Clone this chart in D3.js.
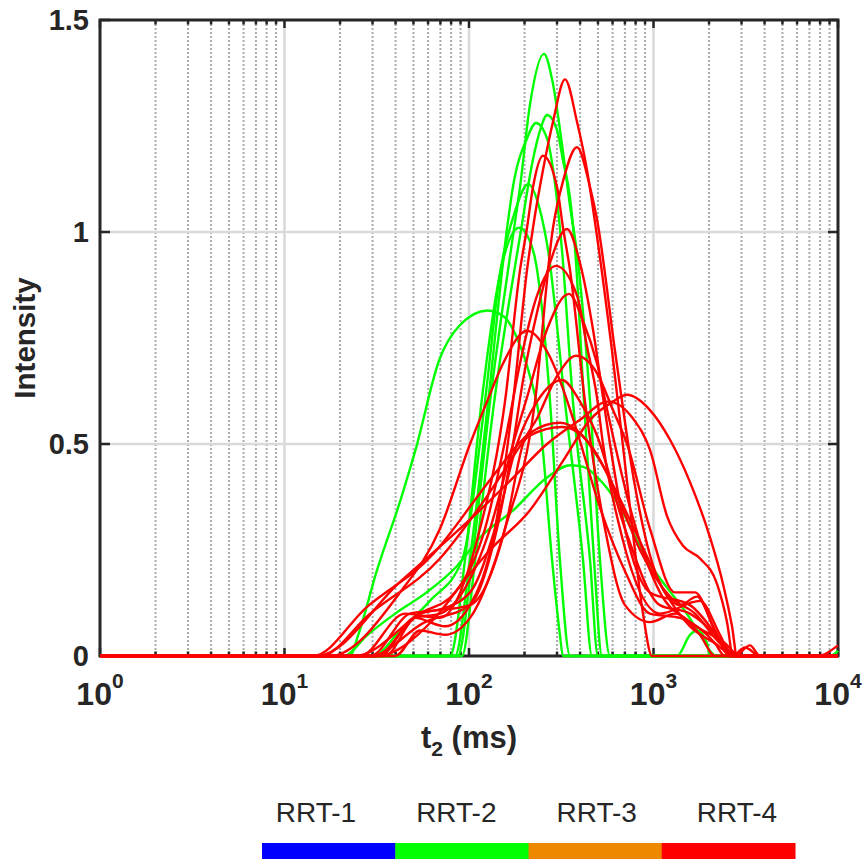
<!DOCTYPE html>
<html>
<head>
<meta charset="utf-8">
<script src="https://cdn.jsdelivr.net/npm/d3@7"></script>
<style>
  body { margin: 0; background: #fff; }
  svg { display: block; }
</style>
</head>
<body>
<script>
var WIDTH = 864,
    HEIGHT = 859,
    LEFT = 100,
    TOP = 20,
    RIGHT = 838,
    BOTTOM = 656;

// tick values
var xMajorTicks = [1, 10, 100, 1000, 10000];
var xTickExp = ['0', '1', '2', '3', '4'];
var yTicks = [0, 0.5, 1, 1.5];
var yTickLabels = ['0', '0.5', '1', '1.5'];

// legend
var legendLabels = ['RRT-1', 'RRT-2', 'RRT-3', 'RRT-4'];
var legendColors = ['#0000ff', '#00ff00', '#ee8800', '#ff0000'];

// RRT-2 curves: [t2 (ms), intensity]
var g1 = [[1,0],[87,0],[104,0.226],[130,0.6],[173,0.99],[189,1.106],[214,1.30],[255,1.42],[282,1.36],[323,1.19],[353,1.06],[385,0.95],[453,0.6],[513,0.226],[581,0],[10000,0]];
var g2 = [[1,0],[91.6,0],[108,0.226],[137,0.6],[189,0.99],[222,1.17],[243,1.24],[265,1.276],[300,1.24],[323,1.17],[353,1.08],[376,0.958],[420,0.6],[476,0.226],[526,0],[1341,0],[1578,0.05],[1721,0.06],[1950,0.03],[2024,0],[10000,0]];
var g3 = [[1,0],[84,0],[101,0.226],[127,0.6],[161,1.01],[173,1.106],[206,1.22],[231,1.257],[265,1.22],[285,1.15],[319,0.958],[366,0.6],[453,0.226],[500,0],[9055,0],[10000,0.012]];
var g4 = [[1,0],[30.2,0],[42.3,0.06],[61.4,0.13],[91.6,0.226],[122,0.6],[147,0.9],[178,1.05],[209,1.113],[243,1.05],[268,0.958],[331,0.6],[415,0.226],[464,0],[10000,0]];
var g5 = [[1,0],[78.9,0],[95.1,0.226],[117,0.6],[147,0.9],[187,1.01],[222,0.958],[275,0.6],[311,0.226],[353,0],[10000,0]];
var g6 = [[1,0],[22.6,0],[25.1,0.05],[31.6,0.20],[42.7,0.37],[51.3,0.486],[69.2,0.70],[89.1,0.78],[126,0.815],[155,0.80],[182,0.75],[214,0.66],[243,0.55],[282,0.226],[311,0.05],[323,0],[10000,0]];
var g7 = [[1,0],[20.9,0],[28.2,0.05],[39.8,0.10],[58.9,0.15],[85.1,0.21],[115,0.28],[174,0.344],[263,0.42],[355,0.45],[417,0.446],[513,0.415],[661,0.35],[912,0.23],[1175,0.163],[1514,0.10],[1862,0.038],[2042,0.01],[2188,0],[10000,0]];

// RRT-4 curves: [t2 (ms), intensity]
var r1 = [[1,0],[32.9,0],[51.0,0.09],[74.1,0.07],[101.3,0.12],[138.3,0.3],[173.2,0.6],[206.3,0.91],[222.3,1.01],[251.8,1.146],[285.3,1.26],[331.4,1.36],[384.9,1.26],[436.1,1.146],[494.0,0.99],[595.7,0.72],[745.9,0.35],[877.4,0.1],[981.5,0],[10000,0]];
var r2 = [[1,0],[39.7,0],[54.3,0.06],[74.1,0.05],[101.3,0.09],[156.7,0.3],[227.9,0.6],[285.3,1.01],[323.3,1.12],[384.9,1.20],[452.7,1.106],[494.0,1.03],[618.4,0.72],[793.9,0.4],[1019,0.2],[1392,0.12],[1721,0.14],[2154,0.06],[2598,0],[10000,0]];
var r3 = [[1,0],[25.7,0],[45.0,0.1],[69.6,0.09],[114.7,0.3],[156.7,0.6],[189.0,0.91],[206.3,1.01],[222.3,1.106],[251.8,1.18],[299.9,1.106],[323.3,1.01],[352.8,0.91],[425.3,0.6],[545.9,0.3],[700.8,0.12],[957.2,0.08],[1308,0.1],[1787,0.05],[2154,0],[10000,0]];
var r4 = [[1,0],[29.1,0],[57.7,0.08],[101.3,0.12],[141.8,0.3],[173.2,0.5],[196.2,0.65],[233.7,0.81],[274.8,0.927],[339.8,1.007],[399.5,0.927],[470.0,0.77],[532.5,0.61],[581.0,0.5],[700.8,0.3],[957.2,0.15],[1577,0.12],[2293,0.04],[2765,0],[7693,0],[10000,0.025]];
var r5 = [[1,0],[24.1,0],[54.3,0.1],[84.0,0.15],[122.1,0.3],[160.7,0.53],[189.0,0.69],[233.7,0.85],[296.1,0.92],[384.9,0.85],[436.1,0.73],[494.0,0.61],[532.5,0.50],[658.3,0.3],[1084,0.1],[1787,0.13],[2293,0.05],[2664,0],[3133,0.02],[3778,0],[10000,0]];
var r6 = [[1,0],[35.0,0],[51.0,0.09],[69.6,0.1],[130.0,0.3],[173.2,0.5],[206.3,0.61],[264.7,0.77],[348.4,0.854],[414.8,0.79],[494.0,0.69],[581.0,0.55],[745.9,0.35],[1084,0.15],[1577,0.08],[2441,0.03],[2943,0],[10000,0]];
var r7 = [[1,0],[17.65,0],[42.3,0.15],[69.6,0.3],[101.3,0.5],[125.2,0.60],[152.9,0.69],[206.3,0.767],[274.8,0.705],[323.3,0.63],[384.9,0.53],[512.9,0.35],[700.8,0.2],[957.2,0.1],[1392,0.09],[2154,0.03],[2441,0],[10000,0]];
var r8 = [[1,0],[30.9,0],[54.3,0.1],[101.3,0.12],[156.7,0.3],[196.2,0.5],[233.7,0.56],[299.9,0.66],[380.2,0.708],[494.0,0.667],[603.2,0.58],[718.6,0.5],[957.2,0.3],[1308,0.15],[1679,0.15],[2154,0.06],[2598,0],[10000,0]];
var r9 = [[1,0],[29.1,0],[47.9,0.1],[69.6,0.11],[101.3,0.15],[138.3,0.3],[182.0,0.5],[233.7,0.60],[319.3,0.651],[399.5,0.6],[494.0,0.52],[700.8,0.3],[1084,0.12],[1577,0.1],[2293,0.04],[2765,0],[3334,0.025],[3778,0],[10000,0]];
var r10 = [[1,0],[14.27,0],[28.0,0.116],[63.8,0.24],[114.7,0.384],[147.2,0.446],[214.1,0.526],[311.3,0.55],[399.5,0.526],[512.9,0.46],[658.3,0.37],[845.2,0.27],[1154,0.15],[1577,0.07],[2154,0.03],[2765,0],[10000,0]];
var r11 = [[1,0],[15.57,0],[29.1,0.1],[69.6,0.23],[122.1,0.37],[156.7,0.44],[214.1,0.52],[319.3,0.54],[409.6,0.52],[532.5,0.45],[675,0.35],[845.2,0.25],[1229,0.14],[1679,0.1],[2293,0.03],[2943,0],[10000,0]];
var r12 = [[1,0],[31.7,0],[63.8,0.085],[95.1,0.18],[130.0,0.25],[214.1,0.344],[323.3,0.46],[452.7,0.557],[603.2,0.60],[718.6,0.616],[957.2,0.58],[1229,0.51],[1577,0.41],[2024,0.28],[2381,0.17],[2664,0.07],[2835,0],[10000,0]];
var r13 = [[1,0],[15.01,0],[42.3,0.175],[114.7,0.344],[173.2,0.42],[264.7,0.50],[399.5,0.557],[566.8,0.60],[774.3,0.56],[957.2,0.486],[1184,0.33],[1445,0.26],[1787,0.23],[2209,0.17],[2503,0.08],[2697,0],[10000,0]];

var greenCurves = [g1, g2, g3, g4, g5, g6, g7];
var redCurves = [r1, r2, r3, r4, r5, r6, r7, r8, r9, r10, r11, r12, r13];

document.addEventListener('DOMContentLoaded', function() {
    var svg = d3.select('body').append('svg')
        .attr('width', WIDTH)
        .attr('height', HEIGHT)
        .style('font-family', '"Liberation Sans", Arial, Helvetica, sans-serif');

    var x = d3.scaleLog().domain([1, 10000]).range([LEFT, RIGHT]);
    var y = d3.scaleLinear().domain([0, 1.5]).range([BOTTOM, TOP]);

    var allTicks = x.ticks();
    var isMajor = t => Math.abs(Math.log10(t) - Math.round(Math.log10(t))) < 1e-9;
    var minorTicks = allTicks.filter(t => !isMajor(t));

    // grid
    var grid = svg.append('g');
    grid.selectAll('.minor').data(minorTicks).enter().append('line')
        .attr('x1', d => x(d)).attr('x2', d => x(d))
        .attr('y1', TOP).attr('y2', BOTTOM)
        .attr('stroke', '#ababab').attr('stroke-width', 2)
        .attr('stroke-dasharray', '2,2');
    grid.selectAll('.major').data(xMajorTicks.slice(1, -1)).enter().append('line')
        .attr('x1', d => x(d)).attr('x2', d => x(d))
        .attr('y1', TOP).attr('y2', BOTTOM)
        .attr('stroke', '#d9d9d9').attr('stroke-width', 2.5);
    grid.selectAll('.hgrid').data(yTicks.slice(1, -1)).enter().append('line')
        .attr('x1', LEFT).attr('x2', RIGHT)
        .attr('y1', d => y(d)).attr('y2', d => y(d))
        .attr('stroke', '#d9d9d9').attr('stroke-width', 2.5);

    // ticks
    var ticks = svg.append('g').attr('stroke', '#262626').attr('stroke-width', 2.5);
    allTicks.forEach(function(t) {
        var len = isMajor(t) ? 8 : 4.5;
        ticks.append('line').attr('x1', x(t)).attr('x2', x(t)).attr('y1', BOTTOM).attr('y2', BOTTOM - len);
        ticks.append('line').attr('x1', x(t)).attr('x2', x(t)).attr('y1', TOP).attr('y2', TOP + len);
    });
    yTicks.forEach(function(v) {
        ticks.append('line').attr('x1', LEFT).attr('x2', LEFT + 10).attr('y1', y(v)).attr('y2', y(v));
        ticks.append('line').attr('x1', RIGHT).attr('x2', RIGHT - 10).attr('y1', y(v)).attr('y2', y(v));
    });

    // frame
    svg.append('rect')
        .attr('x', LEFT).attr('y', TOP)
        .attr('width', RIGHT - LEFT).attr('height', BOTTOM - TOP)
        .attr('fill', 'none').attr('stroke', '#262626').attr('stroke-width', 3);

    // curves
    var line = d3.line()
        .x(d => x(d[0]))
        .y(d => y(d[1]))
        .curve(d3.curveMonotoneX);

    svg.append('g').selectAll('path').data(greenCurves).enter().append('path')
        .attr('d', line).attr('fill', 'none')
        .attr('stroke', '#00ff00').attr('stroke-width', 2.4);
    svg.append('g').selectAll('path').data(redCurves).enter().append('path')
        .attr('d', line).attr('fill', 'none')
        .attr('stroke', '#ff0000').attr('stroke-width', 2.4);

    // tick labels
    svg.append('g').selectAll('text').data(yTicks).enter().append('text')
        .attr('x', LEFT - 11).attr('y', d => y(d)).attr('dy', '0.36em')
        .attr('text-anchor', 'end')
        .attr('font-size', 29).attr('font-weight', 'bold').attr('fill', '#262626')
        .text((d, i) => yTickLabels[i]);

    var xl = svg.append('g').selectAll('text').data(xMajorTicks).enter().append('text')
        .attr('x', d => x(d)).attr('y', 705)
        .attr('text-anchor', 'middle')
        .attr('font-weight', 'bold').attr('fill', '#262626');
    xl.append('tspan').attr('font-size', 32).text('10');
    xl.append('tspan').attr('font-size', 21).attr('dy', -17).text((d, i) => xTickExp[i]);

    // axis labels
    var xt = svg.append('text')
        .attr('x', (LEFT + RIGHT) / 2).attr('y', 748)
        .attr('text-anchor', 'middle')
        .attr('font-size', 31).attr('font-weight', 'bold').attr('fill', '#262626');
    xt.append('tspan').text('t');
    xt.append('tspan').attr('font-size', 21).attr('dy', 8).text('2');
    xt.append('tspan').attr('dy', -8).text(' (ms)');

    svg.append('text')
        .attr('transform', 'translate(35,' + (TOP + BOTTOM) / 2 + ') rotate(-90)')
        .attr('text-anchor', 'middle')
        .attr('font-size', 29.5).attr('font-weight', 'bold').attr('fill', '#262626')
        .text('Intensity');

    // colour bar legend
    var bar = d3.scaleBand().domain(legendLabels).range([262, 795]);
    var lab = d3.scalePoint().domain(legendLabels).range([316, 737]);
    svg.append('g').selectAll('rect').data(legendLabels).enter().append('rect')
        .attr('x', d => bar(d)).attr('y', 843)
        .attr('width', bar.bandwidth() + 0.5).attr('height', 16)
        .attr('fill', (d, i) => legendColors[i]);
    svg.append('g').selectAll('text').data(legendLabels).enter().append('text')
        .attr('x', d => lab(d)).attr('y', 822)
        .attr('text-anchor', 'middle')
        .attr('font-size', 28).attr('fill', '#262626')
        .text(d => d);
});
</script>
</body>
</html>
